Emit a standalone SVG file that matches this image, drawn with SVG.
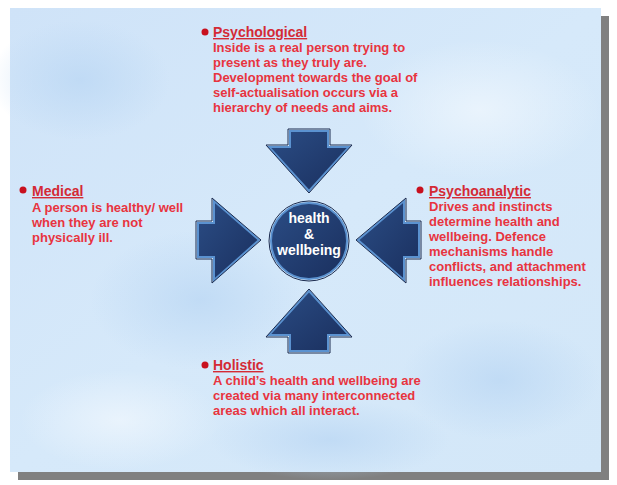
<svg xmlns="http://www.w3.org/2000/svg" width="617" height="485" viewBox="0 0 617 485">
<defs>
<linearGradient id="bg" x1="0" y1="0" x2="1" y2="1">
<stop offset="0" stop-color="#cfe3f8"/><stop offset="0.5" stop-color="#d6e9fa"/><stop offset="1" stop-color="#d3e7f8"/>
</linearGradient>
<radialGradient id="blob"><stop offset="0" stop-color="#bcd8f4" stop-opacity="0.8"/><stop offset="1" stop-color="#bcd8f4" stop-opacity="0"/></radialGradient>
<radialGradient id="wblob"><stop offset="0" stop-color="#eef6fd" stop-opacity="0.8"/><stop offset="1" stop-color="#eef6fd" stop-opacity="0"/></radialGradient>
<linearGradient id="nav" x1="0" y1="0" x2="1" y2="1"><stop offset="0" stop-color="#2b4d85"/><stop offset="1" stop-color="#1a2f5e"/></linearGradient>
<style>
.sh{fill:url(#nav);stroke:#5b92d0;stroke-width:2}
.o{fill:none;stroke:#1b2a4e;stroke-width:1}
.t{font-family:"Liberation Sans",Arial,sans-serif;font-weight:bold;font-size:13px;fill:#e8343f}
.h{font-size:14px;text-decoration:underline;fill:#d42a35}
.b{fill:#c8101e}
.c{font-family:"Liberation Sans",Arial,sans-serif;font-weight:bold;font-size:14px;fill:#fff;text-anchor:middle}
</style>
</defs>
<rect x="0" y="0" width="617" height="485" fill="#fff"/>
<rect x="18" y="16" width="591" height="464" fill="#808080"/>
<rect x="10" y="8" width="591" height="464" fill="url(#bg)"/>
<ellipse cx="80" cy="80" rx="90" ry="60" fill="url(#blob)"/>
<ellipse cx="200" cy="300" rx="110" ry="70" fill="url(#blob)"/>
<ellipse cx="480" cy="110" rx="120" ry="70" fill="url(#wblob)"/>
<ellipse cx="500" cy="380" rx="100" ry="60" fill="url(#blob)"/>
<ellipse cx="120" cy="420" rx="100" ry="50" fill="url(#wblob)"/>
<ellipse cx="330" cy="440" rx="120" ry="40" fill="url(#blob)"/>
<g id="connectors">
<g id="arrow-top"><path class="sh" d="M290,131H328V147H349L309,191L269,147H290Z"/><path class="o" d="M288,129H330V145H352L309,193L266,145H288Z"/></g>
<g id="arrow-left"><path class="sh" d="M198,223H214V201L259,240L214,280V257H198Z"/><path class="o" d="M196,221H212V198L261,240L212,283V259H196Z"/></g>
<g id="arrow-right"><path class="sh" d="M419,223H404V201L358,240L404,280V257H419Z"/><path class="o" d="M421,221H406V198L356,240L406,283V259H421Z"/></g>
<g id="arrow-bottom"><path class="sh" d="M290,351H328V335H349L309,291L269,335H290Z"/><path class="o" d="M288,353H330V337H352L309,289L266,337H288Z"/></g>
</g>
<g id="center"><circle cx="309" cy="241" r="38" class="sh"/><circle cx="309" cy="241" r="40" class="o"/>
<text class="c" x="309" y="223">health</text><text class="c" x="309" y="239">&amp;</text><text class="c" x="309" y="255">wellbeing</text></g>
<g id="psychological"><circle class="b" cx="205" cy="32" r="3.5"/>
<text class="t"><tspan class="h" x="213" y="37">Psychological</tspan><tspan x="213" y="52">Inside is a real person trying to</tspan><tspan x="213" y="67">present as they truly are.</tspan><tspan x="213" y="82">Development towards the goal of</tspan><tspan x="213" y="97">self-actualisation occurs via a</tspan><tspan x="213" y="112">hierarchy of needs and aims.</tspan></text></g>
<g id="medical"><circle class="b" cx="23" cy="190" r="3.5"/>
<text class="t"><tspan class="h" x="32" y="196">Medical</tspan><tspan x="32" y="212">A person is healthy/ well</tspan><tspan x="32" y="227">when they are not</tspan><tspan x="32" y="242">physically ill.</tspan></text></g>
<g id="psychoanalytic"><circle class="b" cx="420" cy="190" r="3.5"/>
<text class="t"><tspan class="h" x="429" y="196">Psychoanalytic</tspan><tspan x="429" y="211">Drives and instincts</tspan><tspan x="429" y="226">determine health and</tspan><tspan x="429" y="241">wellbeing. Defence</tspan><tspan x="429" y="256">mechanisms handle</tspan><tspan x="429" y="271">conflicts, and attachment</tspan><tspan x="429" y="286">influences relationships.</tspan></text></g>
<g id="holistic"><circle class="b" cx="205" cy="365" r="3.5"/>
<text class="t"><tspan class="h" x="213" y="370">Holistic</tspan><tspan x="213" y="385">A child’s health and wellbeing are</tspan><tspan x="213" y="400">created via many interconnected</tspan><tspan x="213" y="415">areas which all interact.</tspan></text></g>
</svg>
